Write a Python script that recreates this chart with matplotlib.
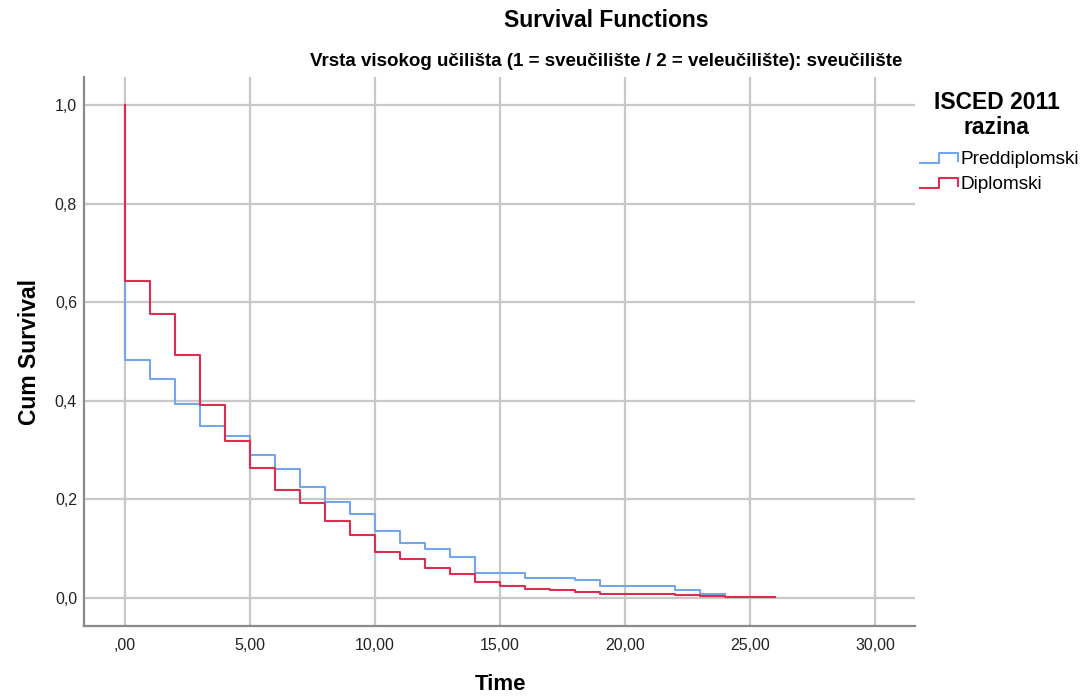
import numpy as np
import matplotlib
matplotlib.use('Agg')
import matplotlib.pyplot as plt
from matplotlib.lines import Line2D
from matplotlib.legend_handler import HandlerLine2D

plt.rcParams['font.family'] = ['Liberation Sans', 'DejaVu Sans']

# podaci ocitani sa slike (vrijednost funkcije prezivljenja po intervalu)
vrijeme_pred = list(range(0, 25))
prezivljenje_pred = [0.483, 0.444, 0.394, 0.349, 0.329, 0.290, 0.262, 0.224,
                     0.195, 0.170, 0.136, 0.111, 0.100, 0.083, 0.050, 0.050,
                     0.041, 0.041, 0.036, 0.025, 0.025, 0.025, 0.016, 0.008]

vrijeme_dipl = list(range(0, 27))
prezivljenje_dipl = [0.643, 0.576, 0.493, 0.391, 0.318, 0.264, 0.219, 0.193,
                     0.155, 0.127, 0.094, 0.079, 0.061, 0.049, 0.032, 0.025,
                     0.018, 0.015, 0.012, 0.008, 0.008, 0.008, 0.005, 0.003,
                     0.001, 0.001]

serije = ['Preddiplomski', 'Diplomski']
boje = ['#74a6ec', '#dc2d50']

x_ticks = [0, 5, 10, 15, 20, 25, 30]
x_labels = [',00', '5,00', '10,00', '15,00', '20,00', '25,00', '30,00']
y_ticks = [0.0, 0.2, 0.4, 0.6, 0.8, 1.0]
y_labels = ['0,0', '0,2', '0,4', '0,6', '0,8', '1,0']


class HandlerStep(HandlerLine2D):
    '''crta stepenicu u legendi kao SPSS'''
    def create_artists(self, legend, orig_handle, xdescent, ydescent,
                       width, height, fontsize, trans):
        x0 = -xdescent
        y0 = -ydescent + height * 0.1
        y1 = -ydescent + height * 0.85
        xs = [x0, x0 + width * 0.5, x0 + width * 0.5, x0 + width, x0 + width]
        ys = [y0, y0, y1, y1, y0 + height * 0.15]
        l = Line2D(xs, ys, color=orig_handle.get_color(),
                   linewidth=orig_handle.get_linewidth())
        l.set_transform(trans)
        return [l]


def krivulja(vrijeme, vrijednosti):
    x = [0] + vrijeme
    y = [1.0] + vrijednosti + [vrijednosti[-1]]
    return x, y


fig = plt.figure(figsize=(10.8, 6.98), dpi=100)
ax = fig.add_axes([0.0778, 0.1032, 0.7694, 0.7865])

x, y = krivulja(vrijeme_pred, prezivljenje_pred)
ax.step(x, y, where='post', color=boje[0], linewidth=1.5, label=serije[0])
x, y = krivulja(vrijeme_dipl, prezivljenje_dipl)
ax.step(x, y, where='post', color=boje[1], linewidth=1.5, label=serije[1])

ax.set_xlim(-1.64, 31.6)
ax.set_ylim(-0.057, 1.057)
ax.set_xticks(x_ticks)
ax.set_xticklabels(x_labels, fontsize=11.5, color='#222222')
ax.set_yticks(y_ticks)
ax.set_yticklabels(y_labels, fontsize=11.5, color='#222222')
ax.tick_params(axis='x', length=0, pad=9)
ax.tick_params(axis='y', length=0, pad=5)

ax.grid(True, color='#c8c8c8', linewidth=1.6)
ax.set_axisbelow(True)
for s in ['top', 'right']:
    ax.spines[s].set_visible(False)
for s in ['left', 'bottom']:
    ax.spines[s].set_color('#8a8a8a')
    ax.spines[s].set_linewidth(1.6)

fig.text(0.463, 0.019, 'Time', fontsize=16, fontweight='bold',
         ha='center', va='center')
fig.text(0.027, 0.496, 'Cum Survival', fontsize=16.5, fontweight='bold',
         ha='center', va='center', rotation=90)

fig.text(0.561, 0.971, 'Survival Functions', fontsize=16.5, fontweight='bold',
         ha='center', va='center')
fig.text(0.561, 0.912,
         'Vrsta visokog učilišta (1 = sveučilište / 2 = veleučilište): sveučilište',
         fontsize=13.5, fontweight='bold', ha='center', va='center')

# naslov legende posebno
fig.text(0.923, 0.835, 'ISCED 2011\nrazina', fontsize=16.5, fontweight='bold',
         ha='center', va='center', multialignment='center', linespacing=1.1)

handles, labels = ax.get_legend_handles_labels()
leg = fig.legend(handles, labels, loc='upper left', bbox_to_anchor=(0.8375, 0.806),
                 frameon=False, fontsize=13.7, handlelength=2.0, handletextpad=0.15,
                 labelspacing=0.4, borderpad=0.3,
                 handler_map={Line2D: HandlerStep()})

fig.savefig('out.png', dpi=100)
